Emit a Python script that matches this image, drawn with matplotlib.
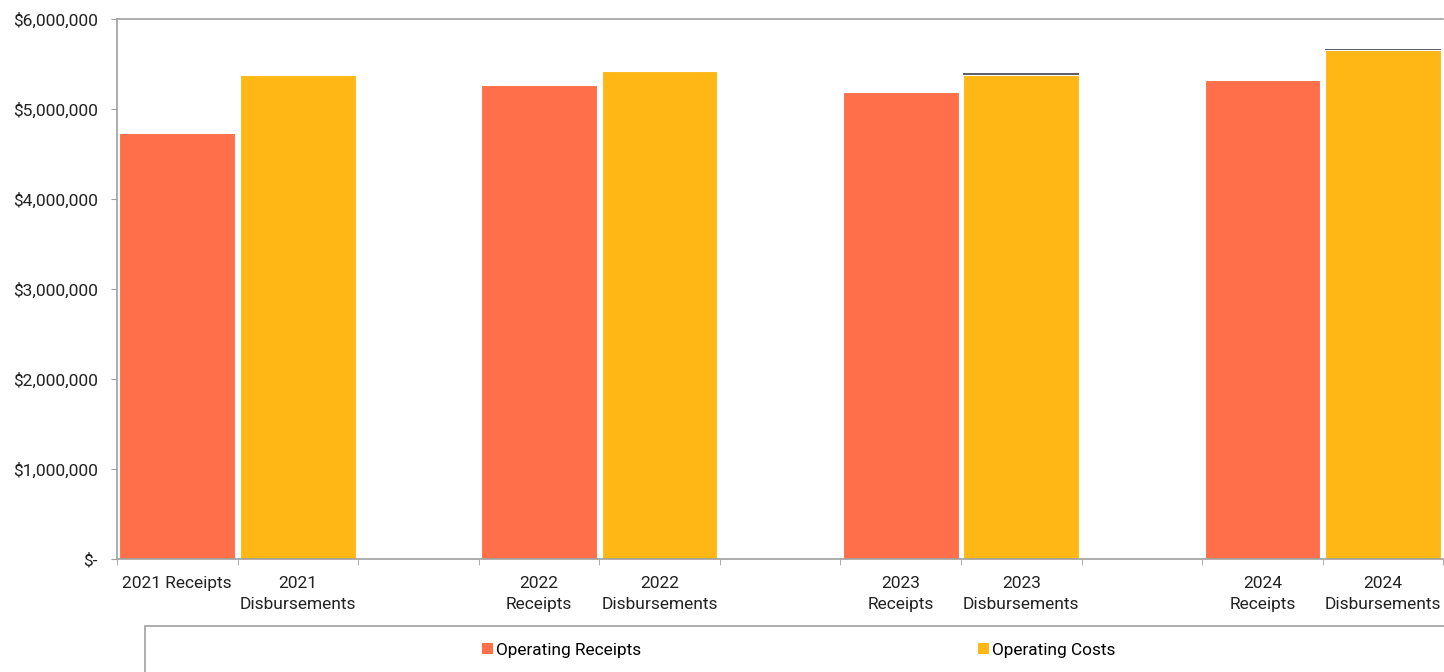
import matplotlib
matplotlib.use("Agg")
import matplotlib.pyplot as plt
from matplotlib.patches import Rectangle, Patch
from matplotlib.ticker import FuncFormatter, MultipleLocator
import numpy as np

plt.rcParams['font.family'] = ['Roboto', 'DejaVu Sans']

# Category slots (blank slots separate the years)
categories = ["2021 Receipts", "2021\nDisbursements", "",
              "2022\nReceipts", "2022\nDisbursements", "",
              "2023\nReceipts", "2023\nDisbursements", "",
              "2024\nReceipts", "2024\nDisbursements"]

operating_receipts = [4730000, 0, 0, 5267000, 0, 0, 5192000, 0, 0, 5322000, 0]
operating_costs = [0, 5382000, 0, 0, 5420000, 0, 0, 5381000, 0, 0, 5656000]
other_costs = [0, 0, 0, 0, 0, 0, 0, 18000, 0, 0, 15000]

series_names = ["Operating Receipts", "Operating Costs"]
c_receipts = "#FF6F4A"
c_costs = "#FFB716"
c_other = "#5E6070"

fs = 12.5

fig = plt.figure(figsize=(14.44, 6.72), dpi=100)
ax = fig.add_axes([117 / 1444, 1 - 559 / 672, 1 - 117 / 1444 - 0.0005, (559 - 19) / 672])

x = np.arange(len(categories))
w = 0.96
ax.bar(x, operating_receipts, width=w, color=c_receipts, edgecolor="white", linewidth=0.8)
ax.bar(x, operating_costs, width=w, color=c_costs, edgecolor="white", linewidth=0.8)
ax.bar(x, other_costs, width=w, bottom=operating_costs, color=c_other, edgecolor="none")

ax.set_xlim(-0.5, len(categories) - 0.5)
ax.set_ylim(0, 6000000)

ax.yaxis.set_major_locator(MultipleLocator(1000000))
ax.yaxis.set_major_formatter(FuncFormatter(lambda v, p: "$-" if v == 0 else f"${v:,.0f}"))

ax.set_xticks(x)
ax.set_xticklabels(categories, linespacing=1.5)
ax.set_xticks(np.arange(-0.5, len(categories), 1.0), minor=True)
ax.tick_params(axis="x", which="major", length=0, pad=12, labelsize=fs, colors="#222222")
ax.tick_params(axis="x", which="minor", length=4, color="#a0a0a0")
ax.tick_params(axis="y", length=4, color="#a0a0a0", labelsize=fs, labelcolor="#222222", pad=10)

for s in ["left", "bottom", "top"]:
    ax.spines[s].set_color("#a0a0a0")
    ax.spines[s].set_linewidth(1.2)
ax.spines["right"].set_visible(False)

# Legend frame running off the bottom edge
fig.patches.append(Rectangle((145 / 1444, -0.05), 1 - 145 / 1444 + 0.01, 0.05 + (672 - 626) / 672,
                             transform=fig.transFigure, fill=False, edgecolor="#a0a0a0",
                             linewidth=1.2, clip_on=False))

handles = [Patch(facecolor=c_receipts), Patch(facecolor=c_costs)]
fig.legend(handles, series_names, loc="center left", bbox_to_anchor=(482 / 1444, 1 - 650 / 672),
           ncol=2, frameon=False, fontsize=12.4, handlelength=0.63, handleheight=0.63,
           handletextpad=0.2, columnspacing=19.55, borderaxespad=0, borderpad=0)

fig.savefig("out.png", dpi=100)
